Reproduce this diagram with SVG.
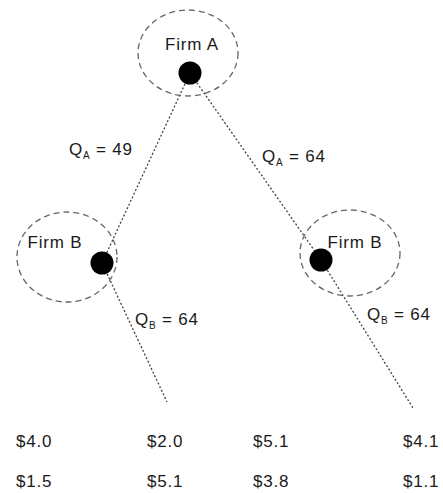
<svg xmlns="http://www.w3.org/2000/svg" width="443" height="493" viewBox="0 0 443 493">
<style>
text{font-family:"Liberation Sans",Arial,sans-serif;font-size:17px;fill:#1a1a1a;letter-spacing:0.8px}
.ring{fill:none;stroke:#666;stroke-width:1.3;stroke-dasharray:6 4}
.dot{fill:#000}
.edge{stroke:#444;stroke-width:1.3;stroke-dasharray:2 2;fill:none}
.sub{font-size:10px}
</style>
<rect width="443" height="493" fill="#fff"/>
<g id="connectors">
<line class="edge" x1="190" y1="73" x2="102" y2="263"/>
<line class="edge" x1="190" y1="73" x2="321" y2="260"/>
<line class="edge" x1="102" y1="263" x2="167" y2="402"/>
<line class="edge" x1="321" y1="260" x2="413" y2="408"/>
<text x="69" y="155">Q<tspan class="sub" dy="4">A</tspan><tspan dy="-4"> = 49</tspan></text>
<text x="262" y="162">Q<tspan class="sub" dy="4">A</tspan><tspan dy="-4"> = 64</tspan></text>
<text x="135" y="325">Q<tspan class="sub" dy="4">B</tspan><tspan dy="-4"> = 64</tspan></text>
<text x="367" y="320">Q<tspan class="sub" dy="4">B</tspan><tspan dy="-4"> = 64</tspan></text>
</g>
<g id="firmA">
<ellipse class="ring" cx="188" cy="53" rx="50" ry="43"/>
<text x="192" y="50" text-anchor="middle">Firm A</text>
<circle class="dot" cx="190" cy="73" r="11.5"/>
</g>
<g id="firmB1">
<ellipse class="ring" cx="67" cy="257" rx="50" ry="45"/>
<text x="55" y="248" text-anchor="middle">Firm B</text>
<circle class="dot" cx="102" cy="263" r="11.5"/>
</g>
<g id="firmB2">
<ellipse class="ring" cx="350" cy="253" rx="50" ry="43"/>
<text x="355" y="248" text-anchor="middle">Firm B</text>
<circle class="dot" cx="321" cy="260" r="11.5"/>
</g>
<g id="payoff1">
<text x="16" y="447">$4.0</text>
<text x="16" y="487">$1.5</text>
</g>
<g id="payoff2">
<text x="147" y="447">$2.0</text>
<text x="147" y="487">$5.1</text>
</g>
<g id="payoff3">
<text x="253" y="447">$5.1</text>
<text x="253" y="487">$3.8</text>
</g>
<g id="payoff4">
<text x="403" y="447">$4.1</text>
<text x="403" y="487">$1.1</text>
</g>
</svg>
